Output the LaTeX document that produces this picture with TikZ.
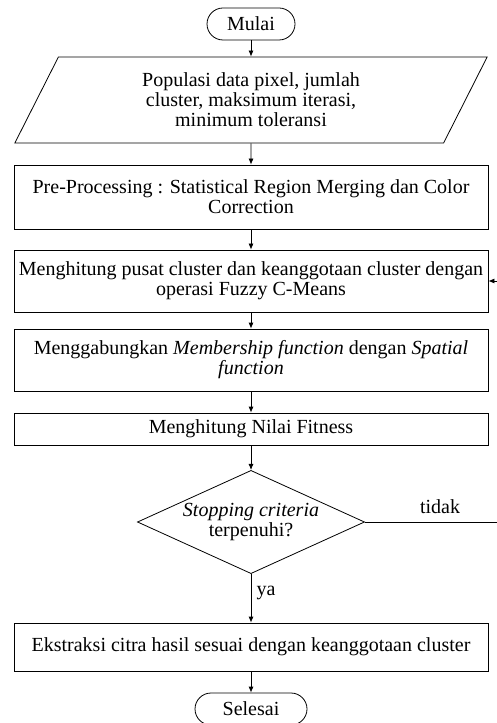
\documentclass[tikz,border=0pt]{standalone}
\usepackage{fontspec}
\setmainfont{Liberation Serif}
\usetikzlibrary{arrows.meta,shapes.geometric}

\begin{document}
\begin{tikzpicture}
    [
        x=0.75pt, y=-0.75pt,
        every node/.style={font=\fontsize{15pt}{15pt}\selectfont},
        terminal/.style={draw, line width=0.6pt, rounded corners=12pt,
            minimum height=24pt, inner sep=2pt},
        proses/.style={draw, line width=0.6pt, align=center,
            minimum width=355.5pt, inner sep=2pt},
        masukan/.style={draw, line width=0.6pt, align=center, trapezium,
            trapezium left angle=67, trapezium right angle=113,
            trapezium stretches=true, minimum width=354.75pt,
            minimum height=64.5pt, inner sep=2pt},
        keputusan/.style={draw, line width=0.6pt, align=center, diamond,
            aspect=2.2, minimum width=169.5pt, minimum height=77pt,
            inner sep=1pt},
        arr/.style={line width=0.6pt, -{Latex[length=4.5pt,width=3.8pt]}},
    ]
    \useasboundingbox (0, 0) rectangle (496, 723);

    % simpul alur
    \node [terminal, minimum width=66pt] (mulai) at (251, 24) {Mulai};
    \node [masukan] (input) at (251, 100)
        {Populasi data pixel, jumlah\\cluster, maksimum iterasi,\\minimum toleransi};
    \node [proses, minimum height=48pt] (prepro) at (251, 197)
        {Pre-Processing : Statistical Region Merging dan Color\\Correction};
    \node [proses, minimum height=46.5pt] (fcm) at (251, 281)
        {Menghitung pusat cluster dan keanggotaan cluster dengan\\operasi Fuzzy C-Means};
    \node [proses, minimum height=46.5pt] (gabung) at (251, 360)
        {Menggabungkan \textit{Membership function} dengan \textit{Spatial}\\\textit{function}};
    \node [proses, minimum height=24pt] (fitness) at (251, 429)
        {Menghitung Nilai Fitness};
    \node [keputusan] (cek) at (251, 522)
        {\textit{Stopping criteria}\\terpenuhi?};
    \node [proses, minimum height=36pt] (ekstraksi) at (251, 647)
        {Ekstraksi citra hasil sesuai dengan keanggotaan cluster};
    \node [terminal, minimum width=84pt] (selesai) at (251, 709) {Selesai};

    % label cabang
    \node (tidak) at (440, 507) {tidak};
    \node (ya) at (266, 593) {ya};
    \coordinate (balik) at (505, 522);

    % panah
    \draw [arr] (mulai) -- (input);
    \draw [arr] (input) -- (prepro);
    \draw [arr] (prepro) -- (fcm);
    \draw [arr] (fcm) -- (gabung);
    \draw [arr] (gabung) -- (fitness);
    \draw [arr] (fitness) -- (cek);
    \draw [arr] (cek) -- (ekstraksi);
    \draw [arr] (ekstraksi) -- (selesai);
    \draw [arr] (cek.east) -- (balik) |- (fcm.east);
\end{tikzpicture}
\end{document}
